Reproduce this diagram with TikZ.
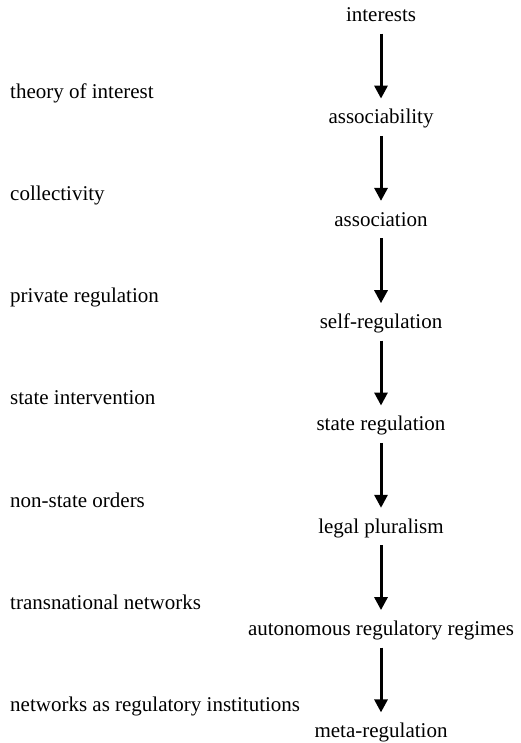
\documentclass[tikz,border=0pt]{standalone}
\usepackage{fontspec}
\setmainfont{Liberation Serif}
\usetikzlibrary{arrows.meta,positioning}
\tikzstyle{stage} = [anchor=base, inner sep=0pt, text height=14pt, text depth=0pt]
\tikzstyle{theory} = [anchor=base west, inner sep=0pt]
\tikzstyle{flow} = [line width=3pt, -{Triangle[width=13pt,length=13pt]}, shorten <=12pt, shorten >=11pt]

\begin{document}
\begin{tikzpicture}[x=1pt,y=-1pt,font=\fontsize{21}{25}\selectfont]

\useasboundingbox (0,0) rectangle (521,743);

% right column
\node[stage] (interests) at (381,21.5) {interests};
\node[stage] (associability) at (381,123.8) {associability};
\node[stage] (association) at (381,226.1) {association};
\node[stage] (selfreg) at (381,328.4) {self-regulation};
\node[stage] (statereg) at (381,430.7) {state regulation};
\node[stage] (pluralism) at (381,533) {legal pluralism};
\node[stage] (regimes) at (381,635.3) {autonomous regulatory regimes};
\node[stage] (metareg) at (381,737.6) {meta-regulation};

% left column
\node[theory] (interest) at (10,98.3) {theory of interest};
\node[theory] (collectivity) at (10,200.5) {collectivity};
\node[theory] (private) at (10,302.7) {private regulation};
\node[theory] (intervention) at (10,404.9) {state intervention};
\node[theory] (nonstate) at (10,507.1) {non-state orders};
\node[theory] (transnational) at (10,609.3) {transnational networks};
\node[theory] (institutions) at (10,711.5) {networks as regulatory institutions};

\draw[flow] (interests) -- (associability);
\draw[flow] (associability) -- (association);
\draw[flow] (association) -- (selfreg);
\draw[flow] (selfreg) -- (statereg);
\draw[flow] (statereg) -- (pluralism);
\draw[flow] (pluralism) -- (regimes);
\draw[flow] (regimes) -- (metareg);

\end{tikzpicture}
\end{document}
